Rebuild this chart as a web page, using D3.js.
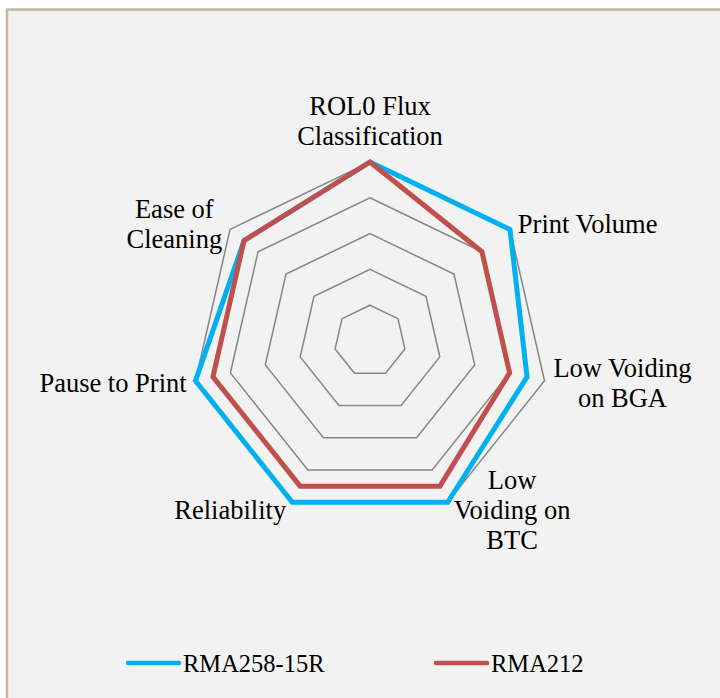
<!DOCTYPE html>
<html>
<head>
<meta charset="utf-8">
<script src="https://cdnjs.cloudflare.com/ajax/libs/d3/7.8.5/d3.min.js"></script>
<style>
    html, body { margin:0; padding:0; background:#fff; }
    svg { display:block; }
    text { font-family:"Liberation Serif", "Times New Roman", serif; fill:#000; }
</style>
</head>
<body>
<svg width="720" height="698"></svg>
<script>
// chart data
var categories = ["ROL0 Flux Classification", "Print Volume", "Low Voiding on BGA",
                  "Low Voiding on BTC", "Reliability", "Pause to Print", "Ease of Cleaning"];
// how the category names break into lines, like in the picture
var labelLines = [["ROL0 Flux", "Classification"], ["Print Volume"], ["Low Voiding", "on BGA"],
                  ["Low", "Voiding on", "BTC"], ["Reliability"], ["Pause to Print"], ["Ease of", "Cleaning"]];
var seriesNames = ["RMA258-15R", "RMA212"];
var rma258 = [5, 5, 4.5, 5, 5, 5, 4.5];
var rma212 = [5, 4, 4, 4.5, 4.5, 4.5, 4.5];
var gridTicks = [1, 2, 3, 4, 5];

var colors = ["#00b0f0", "#c0504d"];

var svg = d3.select("svg");

// chart area frame
svg.append("rect")
    .attr("x", 7).attr("y", 9.5)
    .attr("width", 740).attr("height", 720)
    .attr("fill", "#f2f2f2")
    .attr("stroke", "#c4b99b")
    .attr("stroke-width", 2.5);

var cx = 370, cy = 341, R = 179;
var n = categories.length;

var angle = d3.scalePoint().domain(d3.range(n + 1)).range([0, 2 * Math.PI]);
var r = d3.scaleLinear().domain([0, 5]).range([0, R]);

var g = svg.append("g").attr("transform", "translate(" + cx + "," + cy + ")");

var radial = d3.lineRadial()
    .angle(function(d, i) { return angle(i); })
    .radius(function(d) { return r(d); })
    .curve(d3.curveLinearClosed);

// grid heptagons
g.selectAll(".grid")
    .data(gridTicks)
    .enter().append("path")
    .attr("class", "grid")
    .attr("d", function(t) { return radial(categories.map(function() { return t; })); })
    .attr("fill", "none")
    .attr("stroke", "#868686")
    .attr("stroke-width", 1.5);

// series
var series = [rma258, rma212];
g.selectAll(".series")
    .data(series)
    .enter().append("path")
    .attr("class", "series")
    .attr("d", function(d) { return radial(d); })
    .attr("fill", "none")
    .attr("stroke", function(d, i) { return colors[i]; })
    .attr("stroke-width", 5)
    .attr("stroke-linejoin", "miter");

// category labels
var fs = 26.5, lh = 30;
labelLines.forEach(function(lines, i) {
    var a = angle(i);
    var s = Math.sin(a), c = Math.cos(a);
    var vx = r(5) * s, vy = -r(5) * c;
    var lab = g.append("g");
    var ts = lines.map(function(l) {
        return lab.append("text").attr("font-size", fs).attr("text-anchor", "middle").text(l);
    });
    var w = d3.max(ts, function(t) { return t.node().getComputedTextLength(); });
    var bx, by;
    if (Math.abs(s) < 0.01) {
        bx = vx;
        by = vy - 17 - (lines.length - 1) * lh;   // baseline of first line
    } else {
        var gap = 4 + 5 * Math.abs(s);
        bx = s > 0 ? vx + gap + w / 2 : vx - gap - w / 2;
        var mid = vy - 9 * c;
        by = mid - (lines.length - 1) * lh / 2 + 9;
    }
    ts.forEach(function(t, k) {
        t.attr("x", bx).attr("y", by + k * lh);
    });
});

// legend
var legend = svg.append("g");
var legX = [128, 436];
seriesNames.forEach(function(name, i) {
    legend.append("line")
        .attr("x1", legX[i]).attr("x2", legX[i] + 51)
        .attr("y1", 663).attr("y2", 663)
        .attr("stroke", colors[i])
        .attr("stroke-width", 4.5)
        .attr("stroke-linecap", "round");
    legend.append("text")
        .attr("x", legX[i] + 55).attr("y", 672)
        .attr("font-size", 24.5)
        .text(name);
});
</script>
</body>
</html>
